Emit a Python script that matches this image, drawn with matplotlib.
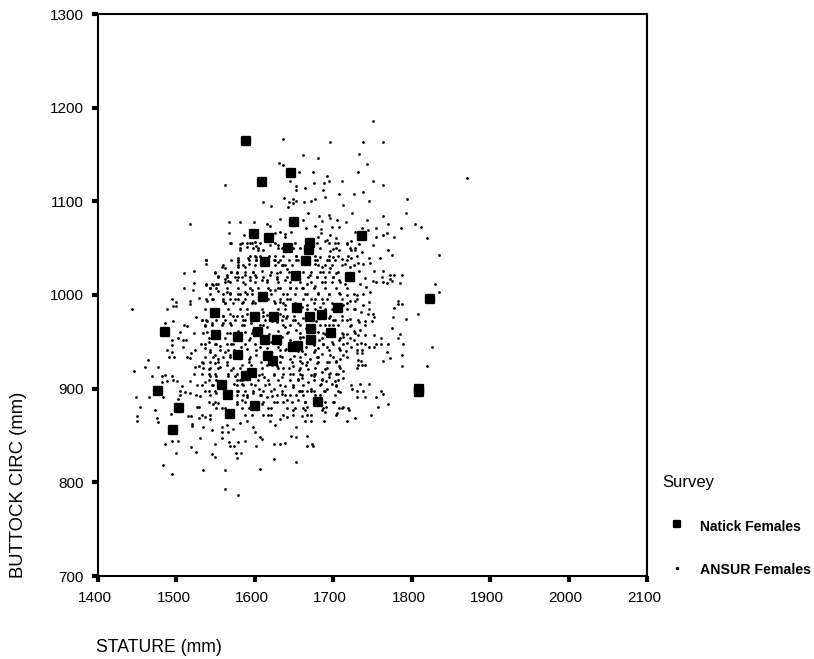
import numpy as np
import matplotlib
matplotlib.use("Agg")
import matplotlib.pyplot as plt
from matplotlib.lines import Line2D
from matplotlib.markers import MarkerStyle
from matplotlib.transforms import ScaledTranslation

plt.rcParams['font.family'] = ['Liberation Sans', 'DejaVu Sans']

# Natick females (big markers)
natick_stature = [1589, 1609, 1646, 1650, 1599, 1618, 1642, 1670, 1669, 1613, 1665, 1737, 1652, 1721, 1823, 1610, 1549,
                  1600, 1624, 1654, 1670, 1686, 1706, 1485, 1550, 1604, 1579, 1613, 1628, 1672, 1697, 1672, 1655, 1649,
                  1579, 1617, 1623, 1596, 1589, 1558, 1566, 1476, 1503, 1568, 1496, 1600, 1681, 1809, 1809]
natick_buttock = [1164, 1121, 1130, 1078, 1065, 1061, 1050, 1056, 1048, 1035, 1036, 1063, 1020, 1019, 996, 998, 981,
                  976, 977, 986, 976, 979, 986, 960, 957, 960, 955, 952, 952, 964, 959, 952, 946, 944,
                  936, 935, 930, 917, 913, 904, 893, 897, 879, 873, 856, 882, 886, 900, 896]

# ANSUR females (small dots), (stature, buttock) read region by region
ansur_upper_left = [
    (1636,1167),(1631,1141),(1636,1139),(1656,1131),(1645,1122),(1653,1116),(1653,1112),(1562,1117),(1637,1104),
    (1649,1103),(1644,1099),(1648,1098),(1642,1094),(1653,1100),(1610,1099),(1620,1095),(1517,1076),(1567,1078),
    (1581,1078),(1599,1078),(1616,1076),(1619,1074),(1632,1081),(1567,1066),(1586,1064),(1570,1055),(1581,1054),
    (1594,1055),(1590,1051),(1600,1057),(1602,1052),(1610,1048),(1604,1048),(1581,1048),(1619,1053),(1630,1053),
    (1626,1066),(1632,1067),(1638,1065),(1646,1067),(1638,1062),(1649,1050),(1618,1042),(1601,1041),(1579,1040),
    (1591,1039),(1570,1037),(1538,1037),(1538,1033),(1579,1035),(1579,1030),(1587,1030),(1592,1033),(1601,1037),
    (1624,1037),(1630,1035),(1636,1032),(1653,1042),(1655,1037),(1558,1030),(1562,1029),(1523,1026),(1510,1023),
    (1549,1024),(1553,1020),(1564,1021),(1570,1025),(1577,1024),(1579,1019),(1587,1021),(1598,1025),(1600,1021),
    (1609,1026),(1619,1021),(1628,1023),(1634,1032),(1641,1028),(1562,1017),(1566,1015),(1577,1016),(1587,1012),
    (1594,1016),(1609,1016),(1615,1016),(1628,1017),(1638,1016),(1523,1013),(1538,1011),(1546,1011),(1553,1012),
    (1543,1007),(1553,1004),(1510,1007),(1521,1005),(1543,1001),(1564,1003),(1568,1002),(1579,1001),(1587,1003),
    (1596,1005),(1604,1007),(1619,1005),(1626,1005),(1632,1007),(1645,1007),(1653,1007),(1641,1001),(1494,996),
    (1500,993),(1517,994),(1517,990),(1529,997),(1539,994),(1546,996),(1560,994),(1562,991),(1568,996),(1579,996),
    (1585,993),(1598,994),(1600,991),(1624,994),(1632,993),(1641,996),(1496,988),(1500,988),(1443,985),(1488,985),
    (1630,985),(1638,989)]

ansur_upper_right = [
    (1750,1186),(1696,1163),(1738,1163),(1763,1163),(1661,1149),(1681,1146),(1733,1151),(1743,1140),(1674,1131),
    (1731,1131),(1692,1127),(1870,1125),(1676,1120),(1688,1120),(1695,1122),(1711,1122),(1751,1122),(1763,1117),
    (1664,1114),(1687,1112),(1707,1108),(1726,1108),(1738,1110),(1690,1105),(1663,1099),(1672,1100),(1677,1102),
    (1712,1096),(1746,1100),(1794,1102),(1668,1088),(1682,1084),(1694,1085),(1724,1088),(1793,1088),(1763,1084),
    (1661,1080),(1685,1079),(1696,1082),(1705,1080),(1716,1078),(1743,1080),(1677,1074),(1698,1073),(1707,1073),
    (1665,1072),(1684,1070),(1737,1072),(1744,1069),(1755,1071),(1770,1076),(1804,1076),(1812,1073),(1786,1071),
    (1728,1067),(1684,1066),(1696,1064),(1704,1061),(1755,1062),(1763,1064),(1769,1066),(1777,1062),(1820,1061),
    (1681,1062),(1692,1059),(1722,1058),(1717,1054),(1702,1055),(1733,1054),(1751,1053),(1690,1058),(1700,1049),
    (1707,1048),(1696,1047),(1722,1048),(1728,1048),(1737,1046),(1770,1048),(1775,1043),(1835,1043),(1683,1041),
    (1700,1041),(1711,1038),(1722,1040),(1746,1040),(1760,1040),(1679,1037),(1695,1037),(1715,1033),(1731,1034),
    (1738,1033),(1747,1034),(1677,1033),(1685,1030),(1704,1023),(1696,1029),(1721,1030),(1733,1026),(1752,1026),
    (1764,1026),(1772,1021),(1772,1017),(1778,1021),(1787,1021),(1740,1018),(1762,1019),(1670,1021),(1679,1019),
    (1687,1025),(1700,1019),(1751,1015),(1755,1014),(1763,1014),(1769,1013),(1775,1015),(1785,1013),(1830,1012),
    (1715,1012),(1707,1016),(1734,1012),(1742,1009),(1666,1012),(1677,1010),(1690,1014),(1662,1007),(1681,1002),
    (1694,1001),(1707,1002),(1717,1000),(1730,1000),(1738,1001),(1747,1003),(1835,1003),(1664,1001),(1672,996),
    (1685,996),(1721,994),(1728,994),(1738,989),(1746,993),(1783,994),(1783,990),(1787,990),(1778,986),(1745,985),
    (1726,985),(1666,989),(1683,987),(1690,985),(1713,989),(1660,987)]

ansur_lower_left = [
    (1525,977),(1495,972),(1485,970),(1510,968),(1514,967),(1532,973),(1539,972),(1545,970),(1536,967),(1560,978),
    (1568,980),(1577,978),(1560,970),(1568,970),(1585,973),(1636,978),(1649,973),(1505,961),(1522,959),(1502,954),
    (1494,952),(1509,952),(1512,952),(1494,947),(1531,948),(1509,945),(1539,960),(1541,950),(1549,948),(1556,946),
    (1564,948),(1568,959),(1488,941),(1494,939),(1490,934),(1497,934),(1524,941),(1519,938),(1514,934),(1517,933),
    (1536,943),(1543,939),(1549,936),(1553,932),(1562,939),(1568,936),(1573,941),(1464,931),(1477,923),(1460,923),
    (1446,919),(1469,914),(1485,915),(1481,913),(1494,913),(1495,909),(1488,908),(1481,907),(1501,908),(1524,923),
    (1529,924),(1534,927),(1541,921),(1549,927),(1556,923),(1564,925),(1570,920),(1522,916),(1532,916),(1543,914),
    (1551,914),(1566,913),(1575,914),(1517,908),(1526,904),(1536,907),(1545,904),(1573,905),(1581,909),(1507,903),
    (1505,898),(1511,896),(1517,895),(1525,893),(1530,892),(1541,897),(1551,895),(1577,898),(1585,893),(1505,893),
    (1502,889),(1448,891),(1465,891),(1483,891),(1547,884),(1553,885),(1558,879),(1577,884),(1583,888),(1590,891),
    (1609,884),(1615,891),(1628,886),(1641,888),(1454,880),(1473,877),(1526,880),(1529,880),(1493,873),(1515,871),
    (1518,871),(1536,870),(1543,868),(1529,869),(1450,871),(1475,869),(1450,866),(1477,864),(1520,862),(1520,860),
    (1534,859),(1545,856),(1558,859),(1564,861),(1581,863),(1590,865),(1598,859),(1600,854),(1558,854),(1566,854),
    (1572,857),(1611,872),(1619,866),(1626,861),(1632,868),(1641,870),(1653,859),(1649,877),(1530,847),(1558,847),
    (1587,844),(1607,848),(1609,846),(1486,841),(1494,844),(1502,844),(1518,838),(1549,841),(1567,843),(1568,839),
    (1579,843),(1573,839),(1602,839),(1624,841),(1632,841),(1638,842),(1646,850),(1653,848),(1499,831),(1525,832),
    (1545,830),(1549,827),(1576,831),(1582,831),(1577,826),(1624,825),(1653,822),(1483,819),(1494,809),(1534,813),
    (1562,813),(1607,814),(1562,793),(1579,786)]

ansur_core_left = [
    (1590,980),(1611,982),(1632,980),(1596,975),(1604,978),(1615,979),(1622,972),(1640,975),(1650,978),(1586,968),
    (1595,970),(1607,968),(1616,966),(1628,971),(1638,966),(1645,968),(1655,970),(1578,962),(1588,960),(1598,963),
    (1618,958),(1630,962),(1642,960),(1652,963),(1575,955),(1592,952),(1600,948),(1620,950),(1635,955),(1645,952),
    (1658,955),(1572,948),(1582,945),(1590,942),(1606,944),(1615,943),(1630,945),(1640,942),(1655,940),(1578,936),
    (1592,932),(1602,936),(1622,925),(1632,935),(1645,932),(1650,935),(1658,930),(1583,925),(1595,925),(1608,928),
    (1615,925),(1628,924),(1636,922),(1648,924),(1656,920),(1585,918),(1605,915),(1612,912),(1625,915),(1635,912),
    (1645,916),(1655,910),(1583,905),(1595,905),(1605,900),(1618,905),(1625,900),(1638,903),(1648,902),(1656,898),
    (1598,895),(1608,893),(1622,892),(1634,894),(1645,893),(1655,888)]

ansur_lower_right = [
    (1808,980),(1776,976),(1793,974),(1775,965),(1785,958),(1782,954),(1761,954),(1752,957),(1752,976),(1751,980),
    (1744,980),(1735,982),(1749,972),(1740,968),(1740,972),(1733,971),(1721,974),(1711,973),(1702,973),(1700,968),
    (1721,967),(1683,968),(1690,968),(1734,963),(1726,962),(1713,958),(1717,958),(1731,957),(1740,957),(1712,955),
    (1726,952),(1707,952),(1717,949),(1735,949),(1740,948),(1755,948),(1761,948),(1770,948),(1789,948),(1826,945),
    (1746,944),(1752,945),(1700,948),(1707,943),(1723,945),(1730,941),(1736,941),(1730,938),(1736,938),(1768,939),
    (1787,936),(1772,933),(1716,940),(1713,936),(1696,936),(1709,932),(1732,931),(1735,930),(1763,930),(1704,930),
    (1687,948),(1681,943),(1675,939),(1664,937),(1685,937),(1695,929),(1679,927),(1732,925),(1736,925),(1740,925),
    (1787,924),(1819,924),(1660,927),(1707,924),(1690,921),(1668,921),(1713,919),(1696,917),(1704,916),(1677,916),
    (1660,911),(1712,911),(1702,908),(1691,908),(1676,913),(1734,905),(1746,905),(1684,905),(1704,903),(1724,900),
    (1738,898),(1761,898),(1763,894),(1666,898),(1676,897),(1692,900),(1708,896),(1660,897),(1730,891),(1741,891),
    (1755,891),(1683,893),(1770,884),(1757,880),(1701,886),(1664,886),(1691,880),(1707,879),(1712,880),(1720,877),
    (1666,880),(1685,877),(1705,874),(1690,875),(1664,877),(1748,872),(1728,869),(1672,872),(1660,871),(1688,866),
    (1672,865),(1717,865),(1664,866),(1666,850),(1666,839),(1673,841),(1674,839),
    (1662,975),(1670,978),(1678,972),(1685,978),(1695,975),(1665,965),(1672,960),(1680,960),(1690,958),(1698,962),
    (1662,955),(1668,950),(1675,955),(1682,952),(1692,945),(1698,950),(1665,945),(1675,947),(1660,940),(1670,932),
    (1680,934),(1692,928),(1665,925),(1672,915),(1685,918),(1660,915),(1695,912),(1668,907),(1685,910),(1698,905),
    (1672,900),(1688,898)]

# dense middle of the cloud, read row by row: buttock value, then the statures on that row
ansur_core_rows = [
    (1055, [1568,1583,1590,1596,1606,1626,1651,1679,1694,1706,1717]),
    (1050, [1581,1598,1604,1630,1634,1657,1683,1704,1721,1728]),
    (1042, [1594,1600,1606,1626,1636,1653,1677,1694,1706,1719,1730]),
    (1037, [1538,1579,1592,1602,1626,1632,1643,1653,1677,1692,1702,1717]),
    (1032, [1560,1579,1585,1600,1626,1638,1647,1681,1689,1698,1711,1726]),
    (1025, [1549,1570,1577,1587,1598,1621,1632,1643,1662,1672,1683,1694,1706]),
    (1019, [1553,1564,1575,1583,1594,1602,1611,1628,1641,1668,1679,1689,1700]),
    (1014, [1562,1568,1585,1600,1615,1630,1645,1658,1672,1685,1698,1708]),
    (1012, [1538,1545,1551]),
    (1007, [1543,1551,1564,1579,1594,1617,1630,1645,1660,1675,1689,1704,1717]),
    (1001, [1560,1568,1581,1590,1596,1621,1636,1651,1666,1681,1694,1708,1726]),
    (996, [1538,1545,1560,1575,1587,1617,1632,1645,1662,1677,1692,1711,1730]),
    (991, [1562,1572,1583,1596,1626,1636,1651,1675,1687,1698,1717]),
    (985, [1536,1566,1581,1590,1609,1638,1666,1677,1698,1717,1728]),
    (978, [1560,1572,1583,1611,1641,1696,1711]),
    (973, [1532,1538,1551,1562,1575,1587,1613,1634,1651,1700,1717,1732]),
    (968, [1536,1545,1558,1570,1583,1611,1636,1657,1694,1706,1723]),
    (959, [1534,1564,1596,1641,1658,1687,1711,1728]),
    (954, [1541,1562,1594,1657,1685,1709,1721]),
    (948, [1536,1551,1570,1587,1632,1687,1713,1730]),
    (941, [1543,1556,1566,1602,1632,1638,1677,1694,1709]),
    (934, [1536,1547,1560,1568,1594,1634,1657,1679,1700,1717]),
    (929, [1532,1543,1553,1564,1592,1632,1647,1666,1681,1704]),
    (922, [1534,1543,1553,1572,1581,1609,1630,1643,1657,1677,1692,1708,1730]),
    (916, [1541,1549,1566,1577,1609,1624,1636,1649,1657,1675,1694,1706]),
    (909, [1541,1551,1577,1583,1604,1617,1630,1645,1655,1675,1685,1706]),
    (904, [1532,1547,1577,1585,1600,1613,1632,1649,1662,1683,1704,1723]),
    (898, [1536,1549,1579,1587,1598,1611,1621,1634,1657,1672,1689,1706,1730]),
    (893, [1543,1577,1590,1606,1628,1638,1653,1662,1677,1702]),
    (886, [1541,1549,1577,1587,1611,1624,1636,1647,1664,1689,1700]),
    (879, [1551,1562,1583,1592,1617,1621,1641,1651,1662,1687,1711,1719]),
    (872, [1532,1543,1587,1596,1617,1621,1636,1649,1666,1704]),
]

x_ticks = [1400, 1500, 1600, 1700, 1800, 1900, 2000, 2100]
y_ticks = [700, 800, 900, 1000, 1100, 1200, 1300]

row_pts = [(x, y) for y, xs in ansur_core_rows for x in xs]
ansur = np.array(ansur_upper_left + ansur_upper_right + ansur_lower_left + ansur_core_left + ansur_lower_right + row_pts)

fig = plt.figure(figsize=(8.14, 6.59), dpi=100)
ax = fig.add_axes([98 / 814, 1 - 576 / 659, 549 / 814, 562 / 659])

ax.scatter(ansur[:, 0], ansur[:, 1], s=4, c='black', marker='o', linewidths=0)
big = MarkerStyle('s', joinstyle='round')
ax.plot(natick_stature, natick_buttock, ls='none', marker=big, ms=5.5, mew=1.7, color='black', zorder=3)

ax.set_xlim(1400, 2100)
ax.set_ylim(700, 1300)
ax.set_xticks(x_ticks)
ax.set_yticks(y_ticks)
ax.tick_params(length=4, width=3, labelsize=11)
ax.tick_params(axis='x', pad=7)
ax.tick_params(axis='y', pad=6)
shift = ScaledTranslation(-3 / 100, 0, fig.dpi_scale_trans)
for lab in ax.get_xticklabels():
    lab.set_transform(lab.get_transform() + shift)
for s in ax.spines.values():
    s.set_linewidth(1.5)

fig.text(19 / 814, 1 - 578 / 659, 'BUTTOCK CIRC (mm)', rotation=90, fontsize=13.3, ha='center', va='bottom')
fig.text(96 / 814, 1 - 648 / 659, 'STATURE (mm)', fontsize=12.7, ha='left', va='center')

fig.text(662 / 814, 1 - 482 / 659, 'Survey', fontsize=12, ha='left', va='center')
fig.add_artist(Line2D([677 / 814], [1 - 524 / 659], marker=big, ms=5, mew=1.7, color='black', ls='none', transform=fig.transFigure))
fig.add_artist(Line2D([677 / 814], [1 - 568 / 659], marker='o', ms=1.5, color='black', ls='none', transform=fig.transFigure))
fig.text(700 / 814, 1 - 527 / 659, 'Natick Females', fontsize=10, fontweight='bold', ha='left', va='center')
fig.text(700 / 814, 1 - 570 / 659, 'ANSUR Females', fontsize=10.2, fontweight='bold', ha='left', va='center')

fig.savefig('out.png', dpi=100)
